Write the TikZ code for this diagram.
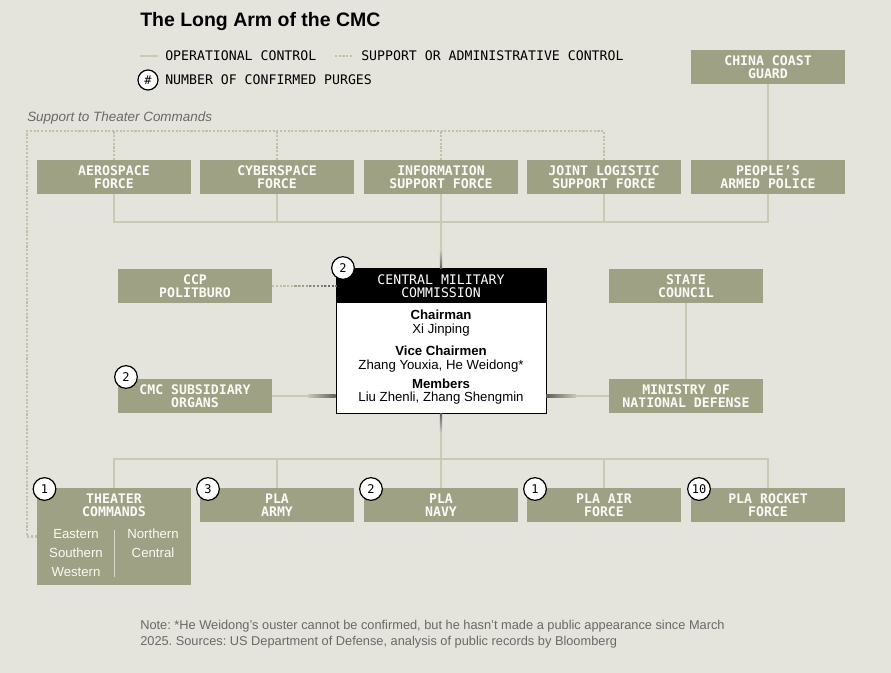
\documentclass[tikz,border=0pt]{standalone}
\usepackage{fontspec}
\setmainfont{Liberation Sans}
\newfontfamily\mono{DejaVu Sans Mono}
\usetikzlibrary{calc}
\definecolor{bgc}{RGB}{228,227,220}
\definecolor{boxc}{RGB}{158,161,131}
\definecolor{linec}{RGB}{201,202,178}
\definecolor{dotc}{RGB}{192,193,168}
\definecolor{notec}{RGB}{105,105,105}
\definecolor{txtw}{RGB}{250,250,246}
\definecolor{darkl}{RGB}{95,95,90}
\definecolor{divc}{RGB}{214,215,200}
\frenchspacing
\begin{document}
\begin{tikzpicture}[x=0.75pt,y=-0.75pt,
  box/.style={fill=boxc, minimum width=115.5pt, minimum height=25.5pt, inner sep=0pt, text=txtw, font=\mono\bfseries\fontsize{9.9pt}{9.5pt}\selectfont, align=center},
  boxtext/.style={inner sep=0pt, text=txtw, font=\mono\bfseries\fontsize{9.9pt}{9.5pt}\selectfont, align=center},
  op/.style={draw=linec, line width=1.9pt},
  sup/.style={draw=dotc, line width=2pt, dash pattern=on 1.6pt off 1.2pt},
  badge/.style={circle, draw=black, fill=white, line width=0.9pt, minimum size=17pt, inner sep=0pt, font=\mono\fontsize{9pt}{9pt}\selectfont},
  legtext/.style={inner sep=0pt, text=black, font=\mono\fontsize{9.9pt}{10pt}\selectfont},
  cmctext/.style={inner sep=0pt, text=black, font=\fontsize{9.9pt}{10pt}\selectfont},
  cmcbold/.style={inner sep=0pt, text=black, font=\bfseries\fontsize{9.9pt}{10pt}\selectfont},
  tctext/.style={inner sep=0pt, text=txtw, font=\fontsize{9.9pt}{10pt}\selectfont},
  notetext/.style={inner sep=0pt, text=notec, font=\fontsize{9.6pt}{12pt}\selectfont}
]
\fill[bgc] (0,0) rectangle (891,673);
\useasboundingbox (0,0) rectangle (891,673);

% title
\node[anchor=base west, inner sep=0pt, font=\bfseries\fontsize{14.6pt}{16pt}\selectfont] (title) at (140,27) {The Long Arm of the CMC};

% legend
\coordinate (l1a) at (140,56); \coordinate (l1b) at (158,56);
\draw[op, line width=2.2pt] (l1a) -- (l1b);
\node[legtext, anchor=base west] (lt1) at (165,61) {OPERATIONAL CONTROL};
\coordinate (l2a) at (335,56); \coordinate (l2b) at (353,56);
\draw[sup] (l2a) -- (l2b);
\node[legtext, anchor=base west] (lt2) at (361,61) {SUPPORT OR ADMINISTRATIVE CONTROL};
\node[badge, minimum size=15pt] (lb) at (148,80) {\#};
\node[legtext, anchor=base west] (lt3) at (165,85) {NUMBER OF CONFIRMED PURGES};

% support label
\node[anchor=base west, inner sep=0pt, text=notec, font=\itshape\fontsize{10.1pt}{12pt}\selectfont] (suplab) at (27,121.5) {Support to Theater Commands};

% top row
\node[box] (ccg) at (768,67) {CHINA COAST\\GUARD};
\node[box] (aero) at (114,177) {AEROSPACE\\FORCE};
\node[box] (cyber) at (277,177) {CYBERSPACE\\FORCE};
\node[box] (info) at (441,177) {INFORMATION\\SUPPORT FORCE};
\node[box] (jlsf) at (604,177) {JOINT LOGISTIC\\SUPPORT FORCE};
\node[box] (pap) at (768,177) {PEOPLE’S\\ARMED POLICE};

% middle row
\node[box] (pol) at (195,286) {CCP\\POLITBURO};
\node[box] (state) at (686,286) {STATE\\COUNCIL};
\node[box] (sub) at (195,396) {CMC SUBSIDIARY\\ORGANS};
\node[box] (mnd) at (686,396) {MINISTRY OF\\NATIONAL DEFENSE};

% CMC
\node[draw=black, fill=white, line width=0.75pt, minimum width=157.5pt, minimum height=108pt, inner sep=0pt] (cmcb) at (441,341) {};
\node[fill=black, text=white, minimum width=157.5pt, minimum height=25.5pt, inner sep=0pt, align=center, font=\mono\fontsize{9.9pt}{9.5pt}\selectfont] (cmch) at (441,286) {CENTRAL MILITARY\\COMMISSION};
\node[cmcbold, anchor=base] (c1) at (441,319) {Chairman};
\node[cmctext, anchor=base] (c2) at (441,333) {Xi Jinping};
\node[cmcbold, anchor=base] (c3) at (441,355) {Vice Chairmen};
\node[cmctext, anchor=base] (c4) at (441,369) {Zhang Youxia, He Weidong*};
\node[cmcbold, anchor=base] (c5) at (441,388) {Members};
\node[cmctext, anchor=base] (c6) at (441,401) {Liu Zhenli, Zhang Shengmin};

% bottom row
\node[box, minimum height=72.75pt] (theater) at (114,536.5) {};
\node[boxtext] (thl) at (114,505) {THEATER\\COMMANDS};
\node[box] (army) at (277,505) {PLA\\ARMY};
\node[box] (navy) at (441,505) {PLA\\NAVY};
\node[box] (air) at (604,505) {PLA AIR\\FORCE};
\node[box] (rocket) at (768,505) {PLA ROCKET\\FORCE};

\node[tctext, anchor=base] (te) at (76,538) {Eastern};
\node[tctext, anchor=base] (ts) at (76,557) {Southern};
\node[tctext, anchor=base] (tw) at (76,576) {Western};
\node[tctext, anchor=base] (tn) at (153,538) {Northern};
\node[tctext, anchor=base] (tcn) at (153,557) {Central};
\coordinate (dva) at (114,530); \coordinate (dvb) at (114,577);
\draw[divc, line width=0.75pt] (dva) -- (dvb);

% operational connectors top
\coordinate (bt) at (441,222);
\draw[op] (aero.south) |- (bt) -| (pap.south);
\draw[op] (cyber.south) -- (cyber.south |- bt);
\draw[op] (jlsf.south) -- (jlsf.south |- bt);
\draw[op] (info.south) -- (cmch.north);
\draw[op] (ccg.south) -- (pap.north);
\shade[top color=linec, bottom color=darkl] (439.8,250) rectangle (442.2,269);

% bottom connectors
\coordinate (bb) at (441,459);
\draw[op] (cmcb.south) -- (navy.north);
\draw[op] (theater.north) |- (bb) -| (rocket.north);
\draw[op] (army.north) -- (army.north |- bb);
\draw[op] (air.north) -- (air.north |- bb);
\shade[top color=darkl, bottom color=linec] (439.8,413.5) rectangle (442.2,432);

% side connectors
\draw[op] (sub.east) -- (sub.east -| cmcb.west);
\shade[left color=linec, right color=darkl] (308,394.8) rectangle (335.6,397.2);
\draw[op] (mnd.west) -- (mnd.west -| cmcb.east);
\shade[left color=darkl, right color=linec] (546.4,394.8) rectangle (576,397.2);
\draw[op] (state.south) -- (mnd.north);

% politburo dotted
\coordinate (pd1) at (294.4,286);
\coordinate (pd2) at (309.3,286);
\coordinate (pd3) at (324.3,286);
\draw[sup] (pol.east) -- (cmch.west);
\draw[sup, draw=dotc!65!darkl] (pd1) -- (cmch.west);
\draw[sup, draw=dotc!40!darkl] (pd2) -- (cmch.west);
\draw[sup, draw=dotc!15!darkl] (pd3) -- (cmch.west);

% support dotted frame
\coordinate (tl) at (27,131);
\draw[sup] (theater.west) -| (tl) -| (jlsf.north);
\draw[sup] (aero.north) -- (aero.north |- tl);
\draw[sup] (cyber.north) -- (cyber.north |- tl);
\draw[sup] (info.north) -- (info.north |- tl);

% badges
\node[badge] (bcmc) at (343,268) {2};
\node[badge] (bsub) at (126,377) {2};
\node[badge] (bth) at (44.5,489) {1};
\node[badge] (barmy) at (208,489) {3};
\node[badge] (bnavy) at (371,489) {2};
\node[badge] (bair) at (535,489) {1};
\node[badge] (brock) at (699,489) {10};

% note
\node[notetext, anchor=base west] (n1) at (140,629.5) {Note: *He Weidong’s ouster cannot be confirmed, but he hasn’t made a public appearance since March};
\node[notetext, anchor=base west] (n2) at (140,645.5) {2025. Sources: US Department of Defense, analysis of public records by Bloomberg};
\end{tikzpicture}
\end{document}
